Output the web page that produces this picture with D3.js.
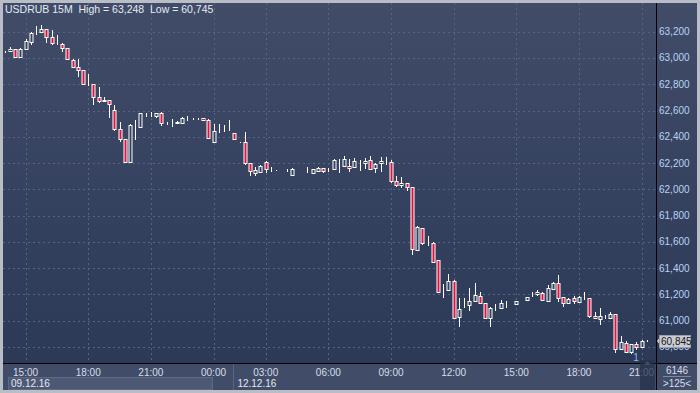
<!DOCTYPE html>
<html lang="en">
<head>
<meta charset="UTF-8">
<title>USDRUB 15M</title>
<script src="https://d3js.org/d3.v7.min.js"></script>
<style>
  body { margin: 0; background: #b9bdc5; }
  svg { display: block; font-family: "Liberation Sans", Arial, sans-serif; }
</style>
</head>
<body>
<script>
    // 15 minute bars, index 0..123 (53 has no trades)
    const opens = [63045,63053,63066,63010,63066,63124,63188,63200,63218,63157,63104,63106,63074,62985,62929,62908,62787,62802,62701,62675,
        62680,62604,62457,62381,62210,62488,62477,62570,62566,62558,62583,62507,62507,62515,62507,62541,62535,62535,62541,62528,
        62362,62459,62472,62459,62426,62358,62362,62198,62126,62134,62206,62147,62142,null,62142,62109,62139,62139,62147,62126,
        62142,62160,62147,62152,62177,62177,62177,62172,62203,62198,62223,62160,62198,62210,62210,62066,62033,62046,62015,61538,
        61703,61601,61593,61462,61233,61233,61302,61030,61114,61119,61150,61190,61132,61022,61106,61099,61127,61127,61125,61157,
        61157,61195,61200,61208,61152,61241,61284,61178,61137,61170,61144,61175,61170,61035,61012,61030,61022,61048,60784,60832,
        60759,60822,60797,60847];
    const highs = [63053,63081,63070,63076,63142,63200,63243,63248,63220,63213,63175,63116,63076,62990,62990,62910,62878,62802,62781,62701,
        62682,62642,62515,62383,62497,62528,62583,62583,62591,62583,62585,62515,62533,62517,62548,62558,62541,62541,62543,62533,
        62497,62497,62490,62528,62428,62360,62439,62200,62172,62185,62218,62172,62144,null,62155,62160,62141,62141,62168,62152,
        62172,62162,62160,62228,62228,62254,62228,62236,62223,62236,62254,62203,62244,62244,62223,62101,62091,62048,62017,61721,
        61705,61644,61595,61464,61277,61353,61310,61170,61175,61246,61284,61216,61134,61106,61127,61157,61150,61129,61152,61159,
        61183,61220,61233,61220,61271,61296,61348,61180,61175,61190,61190,61216,61172,61068,61094,61043,61068,61050,60885,60847,
        60822,60840,60855,60849];
    const lows = [63040,63045,63002,63005,63061,63099,63175,63192,63116,63099,63099,63048,62985,62924,62857,62792,62787,62642,62655,62663,
        62541,62446,62362,62208,62208,62375,62472,62553,62553,62541,62482,62490,62472,62501,62497,62522,62530,62528,62526,62388,
        62355,62426,62439,62446,62379,62356,62185,62104,62104,62122,62126,62130,62140,null,62134,62104,62137,62137,62122,62126,
        62134,62126,62134,62147,62126,62168,62134,62160,62142,62152,62147,62122,62134,62185,62050,62020,62008,61989,61500,61533,
        61576,61568,61447,61216,61175,61226,61018,60954,61094,61073,61140,61124,61012,60954,61073,61094,61099,61125,61123,61155,
        61150,61183,61190,61150,61144,61233,61144,61106,61124,61124,61140,61157,61022,61012,60967,61012,61012,60751,60776,60751,
        60745,60776,60795,60837];
    const closes = [63045,63066,63010,63066,63129,63188,63192,63218,63157,63116,63106,63074,62990,62929,62908,62800,62789,62701,62670,62680,
        62650,62457,62381,62210,62490,62490,62579,62571,62566,62583,62507,62507,62507,62503,62541,62541,62535,62535,62528,62393,
        62446,62459,62472,62459,62381,62358,62198,62139,62147,62177,62152,62147,62142,null,62142,62152,62139,62139,62147,62152,
        62165,62142,62147,62223,62177,62228,62160,62215,62203,62215,62152,62193,62215,62210,62066,62033,62046,62020,61543,61711,
        61593,61601,61449,61220,61233,61302,61022,61089,61114,61150,61195,61132,61022,61094,61106,61132,61127,61127,61150,61157,
        61178,61195,61220,61157,61246,61284,61175,61137,61165,61150,61183,61175,61035,61018,61035,61030,61050,60784,60835,60759,
        60820,60802,60847,60845];

    const priceTicks = [60800, 61000, 61200, 61400, 61600, 61800, 62000, 62200, 62400, 62600, 62800, 63000, 63200];
    const timeTickIdx = [4, 16, 28, 40, 50, 62, 74, 86, 98, 110, 122];
    const timeTickLabels = ["15:00", "18:00", "21:00", "00:00", "03:00", "06:00", "09:00", "12:00", "15:00", "18:00", "21:00"];
    const dayLabels = ["09.12.16", "12.12.16"];
    const dayStartIdx = [0, 44];

    const title = "USDRUB 15M  High = 63,248  Low = 60,745";
    const lastPrice = 60845;
    const barCount = 6146;
    const visibleBars = ">125<";

    const width = 700, height = 393;
    const plotL = 3, plotT = 3, plotR = 656, plotB = 363;

    const svg = d3.select("body").append("svg")
        .attr("width", width)
        .attr("height", height);

    const defs = svg.append("defs");
    const grad = defs.append("linearGradient")
        .attr("id", "bg").attr("x1", 0).attr("y1", 0).attr("x2", 0).attr("y2", 1);
    grad.append("stop").attr("offset", "0%").attr("stop-color", "#404c68");
    grad.append("stop").attr("offset", "100%").attr("stop-color", "#2c3957");

    const x = d3.scaleLinear().domain([0, 123]).range([4.7, 646.8]);
    const y = d3.scaleLinear().domain([60800, 63200]).range([346.9, 31.7]);
    const px = v => Math.round(v) + 0.5;
    const ly = y(lastPrice);

    // the last price box covers the top of the 60,800 label, as in the terminal
    defs.append("clipPath").attr("id", "under-box")
        .append("rect").attr("x", 657).attr("y", Math.round(ly) + 7).attr("width", 40).attr("height", 20);

    // frame + panels
    svg.append("rect").attr("width", width).attr("height", height).attr("fill", "#b9bdc5");
    svg.append("rect").attr("x", plotL).attr("y", plotT)
        .attr("width", 694).attr("height", plotB - plotT).attr("fill", "url(#bg)");
    svg.append("rect").attr("x", plotL).attr("y", plotB)
        .attr("width", 694).attr("height", 27).attr("fill", "#414d68");

    // grid
    svg.append("g").selectAll("line")
        .data(priceTicks)
        .join("line")
        .attr("x1", plotL).attr("x2", plotR)
        .attr("y1", d => px(y(d))).attr("y2", d => px(y(d)))
        .attr("stroke", "#56647f").attr("stroke-dasharray", "2,3");
    svg.append("g").selectAll("line")
        .data(timeTickIdx)
        .join("line")
        .attr("x1", d => px(x(d))).attr("x2", d => px(x(d)))
        .attr("y1", plotT).attr("y2", plotB)
        .attr("stroke", "#56647f").attr("stroke-dasharray", "2,3");

    // candles
    const bars = d3.range(opens.length).filter(i => opens[i] != null);
    const g = svg.append("g");
    g.selectAll("line.wick")
        .data(bars)
        .join("line")
        .attr("class", "wick")
        .attr("x1", i => px(x(i))).attr("x2", i => px(x(i)))
        .attr("y1", i => Math.round(y(highs[i]))).attr("y2", i => Math.round(y(lows[i])))
        .attr("stroke", "#ffffff");
    g.selectAll("rect.body")
        .data(bars)
        .join("rect")
        .attr("class", "body")
        .attr("x", i => px(x(i)) - 1.5)
        .attr("y", i => Math.round(y(Math.max(opens[i], closes[i]))) + 0.5)
        .attr("width", 3)
        .attr("height", i => Math.max(0, Math.round(y(Math.min(opens[i], closes[i]))) - Math.round(y(Math.max(opens[i], closes[i])))))
        .attr("fill", i => closes[i] < opens[i] ? "#e2123f" : "#35425e")
        .attr("stroke", "#ffffff");

    // axis lines
    svg.append("line").attr("x1", plotR + 0.5).attr("x2", plotR + 0.5).attr("y1", plotT).attr("y2", 390).attr("stroke", "#000");
    svg.append("line").attr("x1", plotL).attr("x2", 697).attr("y1", plotB + 0.5).attr("y2", plotB + 0.5).attr("stroke", "#000");

    // price labels
    svg.append("g").selectAll("text")
        .data(priceTicks)
        .join("text")
        .attr("x", 659)
        .attr("y", d => y(d))
        .attr("dy", "0.35em")
        .attr("font-size", 10)
        .attr("fill", "#b9d3f3")
        .attr("clip-path", d => Math.abs(y(d) - ly) < 12 ? "url(#under-box)" : null)
        .text(d => d3.format(",")(d));

    // last price marker
    svg.append("path")
        .attr("d", `M657,${ly} L660,${ly - 4} L660,${ly + 4} Z`)
        .attr("fill", "#c9ccd2");
    svg.append("rect").attr("x", 659.5).attr("y", Math.round(ly) - 5.5)
        .attr("width", 31).attr("height", 12)
        .attr("fill", "#c9ccd2").attr("stroke", "#9aa0aa");
    svg.append("text").attr("x", 661).attr("y", ly).attr("dy", "0.38em")
        .attr("font-size", 10).attr("fill", "#1a1a1a")
        .text(d3.format(",")(lastPrice));

    // time labels
    svg.append("g").selectAll("text")
        .data(timeTickIdx)
        .join("text")
        .attr("x", d => x(d))
        .attr("y", 376)
        .attr("text-anchor", "middle")
        .attr("font-size", 10)
        .attr("fill", "#d6deea")
        .text((d, i) => timeTickLabels[i]);

    // day labels
    svg.append("rect").attr("x", 8.5).attr("y", 377.5).attr("width", 204).attr("height", 12)
        .attr("fill", "#4d5974").attr("stroke", "#5e6a84");
    svg.append("line").attr("x1", 233.5).attr("x2", 233.5).attr("y1", 364).attr("y2", 390).attr("stroke", "#5a667f");
    svg.append("g").selectAll("text")
        .data(dayLabels)
        .join("text")
        .attr("x", (d, i) => i === 0 ? 11 : x(dayStartIdx[i]) + 3)
        .attr("y", 387)
        .attr("font-size", 10)
        .attr("fill", "#e4e9f1")
        .text(d => d);

    // current bar marker
    svg.append("rect").attr("x", 640).attr("y", 360).attr("width", 15).attr("height", 30)
        .attr("fill", "#26314a").attr("opacity", 0.75);
    svg.append("path").attr("d", "M644,365 L647.5,361 L651,365 Z").attr("fill", "#3f4b66");
    svg.append("text").attr("x", 636).attr("y", 361).attr("text-anchor", "middle")
        .attr("font-size", 10).attr("fill", "#8fbaf0").text("1");

    // bottom right info
    svg.append("text").attr("x", 677).attr("y", 374).attr("text-anchor", "middle")
        .attr("font-size", 10).attr("fill", "#d6deea").text(barCount);
    svg.append("line").attr("x1", 663).attr("x2", 691).attr("y1", 376.5).attr("y2", 376.5).attr("stroke", "#7c88a0");
    svg.append("text").attr("x", 677).attr("y", 387).attr("text-anchor", "middle")
        .attr("font-size", 10).attr("fill", "#d6deea").text(visibleBars);

    // title
    svg.append("text").attr("x", 5).attr("y", 13)
        .attr("font-size", 10.5).attr("fill", "#e6ebf3")
        .attr("xml:space", "preserve")
        .text(title);
</script>
</body>
</html>
